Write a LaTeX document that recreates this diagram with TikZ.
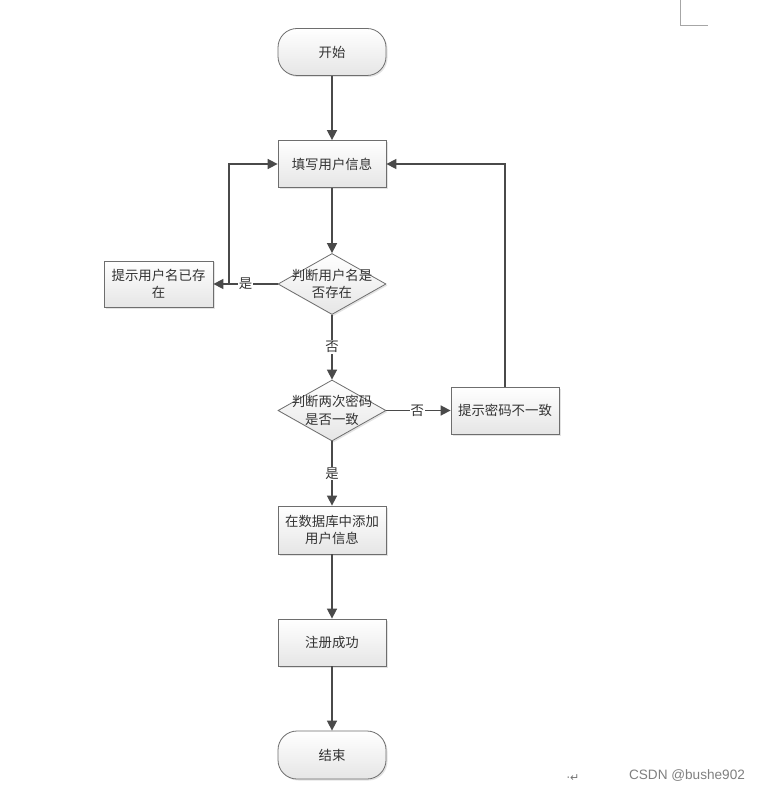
\documentclass[tikz,border=0pt]{standalone}
\usepackage{fontspec}
\newfontfamily\cjk{Noto Sans CJK SC}
\newfontfamily\dejavu{DejaVu Sans}
\newfontfamily\arial{Liberation Sans}
\usetikzlibrary{shapes.geometric,arrows.meta,shadows}
\definecolor{linec}{HTML}{4A4A4A}
\definecolor{borderc}{HTML}{6E6E6E}
\definecolor{textc}{HTML}{333333}
\begin{document}
\begin{tikzpicture}[x=1pt,y=-1pt,
  basefont/.style={font=\cjk\fontsize{13.4}{17.5}\selectfont, text=textc},
  shade/.style={top color=white, bottom color=black!10, draw=borderc, line width=0.8pt,
    drop shadow={opacity=0.22, shadow xshift=1.5pt, shadow yshift=-1.5pt}},
  procbox/.style={basefont, shade, rectangle, minimum width=108pt, minimum height=47pt, align=center, inner sep=2pt},
  termbox/.style={basefont, shade, rectangle, rounded corners=19pt, minimum width=108pt, minimum height=47pt},
  decbox/.style={shade, diamond, minimum width=108pt, minimum height=61pt, inner sep=0pt, aspect=1.77},
  arr/.style={draw=linec, line width=1.6pt, -{Triangle[length=10pt,width=10pt]}},
  lbl/.style={basefont, fill=white, inner sep=1pt}
]
\useasboundingbox (0,0) rectangle (759,791);
\fill[white] (0,0) rectangle (759,791);

% corner mark
\draw[black!35, line width=0.8pt] (680,0) -- (680,25) -- (708,25);

\node[termbox] (start) at (332,52) {开始};
\node[procbox] (fill) at (332,164) {填写用户信息};
\node[decbox, label={[basefont, align=center]center:{判断用户名是\\否存在}}] (d1) at (332,284) {};
\node[procbox, minimum width=109pt, minimum height=46pt] (exists) at (158.5,284) {提示用户名已存\\在};
\node[decbox, label={[basefont, align=center]center:{判断两次密码\\是否一致}}] (d2) at (332,410.5) {};
\node[procbox] (pwd) at (505,410.5) {提示密码不一致};
\node[procbox, minimum height=48pt] (add) at (332,530) {在数据库中添加\\用户信息};
\node[procbox] (ok) at (332,642.5) {注册成功};
\node[termbox, minimum height=48pt] (end) at (332,755) {结束};

\coordinate (j1) at (229,284);

\draw[arr] (start) -- (fill);
\draw[arr] (fill) -- (d1);
\draw[arr] (d1.west) -- node[lbl, pos=0.5] {是} (exists.east);
\draw[arr] (j1) |- (fill.west);
\draw[arr] (d1.south) -- node[lbl] {否} (d2.north);
\draw[arr] (d2.east) -- node[lbl, pos=0.48] {否} (pwd.west);
\draw[arr] (pwd.north) |- (fill.east);
\draw[arr] (d2.south) -- node[lbl] {是} (add.north);
\draw[arr] (add) -- (ok);
\draw[arr] (ok) -- (end);

\node[text=black!55, font=\dejavu\fontsize{11}{12}\selectfont] (ret) at (573,778) {·↵};
\node[text=black!50, font=\arial\fontsize{13.6}{16}\selectfont] (csdn) at (687,776) {CSDN @bushe902};
\end{tikzpicture}
\end{document}
